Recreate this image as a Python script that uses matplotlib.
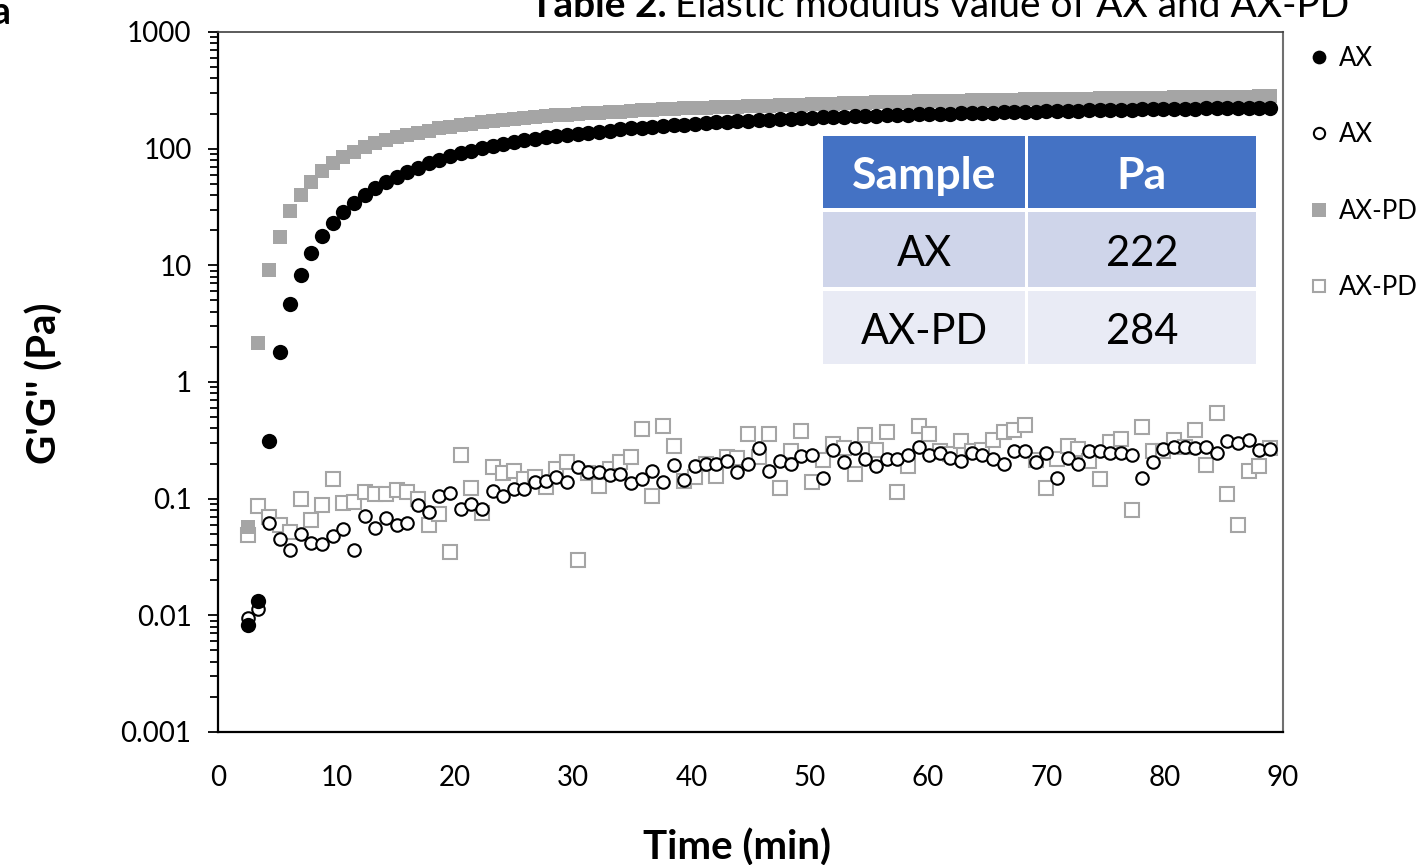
import matplotlib
matplotlib.use("Agg")
import matplotlib.pyplot as plt
from matplotlib.patches import Rectangle
from matplotlib.ticker import FixedLocator, FuncFormatter, LogLocator, NullFormatter

plt.rcParams['font.family'] = ['Lato', 'DejaVu Sans']

# ---------------- data ----------------
time_min = [2.5, 3.4, 4.3, 5.2, 6.1, 7.0, 7.9, 8.8, 9.7, 10.6,
            11.5, 12.4, 13.3, 14.2, 15.1, 16.0, 16.9, 17.8, 18.7, 19.6,
            20.5, 21.4, 22.3, 23.2, 24.1, 25.0, 25.9, 26.8, 27.7, 28.6,
            29.5, 30.4, 31.3, 32.2, 33.1, 34.0, 34.9, 35.8, 36.7, 37.6,
            38.5, 39.4, 40.3, 41.2, 42.1, 43.0, 43.9, 44.8, 45.7, 46.6,
            47.5, 48.4, 49.3, 50.2, 51.1, 52.0, 52.9, 53.8, 54.7, 55.6,
            56.5, 57.4, 58.3, 59.2, 60.1, 61.0, 61.9, 62.8, 63.7, 64.6,
            65.5, 66.4, 67.3, 68.2, 69.1, 70.0, 70.9, 71.8, 72.7, 73.6,
            74.5, 75.4, 76.3, 77.2, 78.1, 79.0, 79.9, 80.8, 81.7, 82.6,
            83.5, 84.4, 85.3, 86.2, 87.1, 88.0, 88.9]

# G' of AX (filled black circles)
g1_ax = [0.0083, 0.0133, 0.31, 1.8, 4.7, 8.2, 12.8, 17.8, 23, 28.5,
         34, 40, 46, 52, 57.5, 63, 68, 75, 80, 86,
         91, 96, 101, 105, 110, 114, 118, 121, 125, 128,
         131, 134, 137, 140, 143, 146, 149, 151, 154, 156,
         159, 161, 163, 165, 168, 170, 172, 173, 175, 177,
         179, 180, 182, 183, 185, 186, 188, 189, 190, 192,
         193, 194, 196, 197, 198, 199, 200, 201, 202, 203,
         204, 205, 206, 207, 208, 209, 210, 211, 212, 213,
         213, 214, 215, 216, 217, 217, 218, 219, 220, 220,
         221, 222, 222, 223, 224, 224, 225]

# G'' of AX (open black circles)
g2_ax = [0.0095, 0.0113, 0.062, 0.045, 0.036, 0.05, 0.042, 0.041, 0.048, 0.055,
         0.036, 0.071, 0.056, 0.068, 0.059, 0.062, 0.088, 0.077, 0.106, 0.112,
         0.082, 0.09, 0.082, 0.116, 0.106, 0.121, 0.121, 0.138, 0.143, 0.154,
         0.138, 0.185, 0.17, 0.17, 0.158, 0.162, 0.135, 0.148, 0.174, 0.14,
         0.194, 0.145, 0.19, 0.2, 0.2, 0.212, 0.17, 0.198, 0.272, 0.172,
         0.212, 0.198, 0.23, 0.235, 0.15, 0.262, 0.207, 0.27, 0.218, 0.19,
         0.22, 0.218, 0.235, 0.278, 0.237, 0.248, 0.224, 0.212, 0.245, 0.237,
         0.218, 0.2, 0.254, 0.254, 0.205, 0.245, 0.15, 0.224, 0.2, 0.258,
         0.258, 0.245, 0.245, 0.237, 0.15, 0.207, 0.266, 0.278, 0.275, 0.27,
         0.278, 0.245, 0.31, 0.3, 0.32, 0.262, 0.266]

# G' of AX-PD (filled gray squares)
g1_axpd = [0.057, 2.14, 9.2, 17.5, 29, 40, 52, 64, 75, 85,
           94, 103, 111, 118, 125, 131, 137, 143, 149, 154,
           159, 164, 168, 172, 176, 180, 183, 187, 190, 193,
           196, 199, 201, 204, 206, 208, 211, 213, 215, 217,
           219, 221, 223, 224, 226, 228, 229, 231, 232, 234,
           235, 237, 238, 240, 242, 243, 245, 246, 248, 249,
           250, 252, 253, 254, 255, 256, 257, 258, 259, 260,
           261, 262, 263, 264, 265, 266, 267, 267, 268, 269,
           270, 271, 271, 272, 273, 274, 274, 275, 276, 276,
           277, 278, 278, 279, 279, 280, 281]

# G'' of AX-PD (open gray squares)
g2_axpd = [0.049, 0.087, 0.069, 0.06, 0.052, 0.099, 0.065, 0.089, 0.146, 0.092,
           0.093, 0.113, 0.11, 0.11, 0.119, 0.115, 0.1, 0.059, 0.074, 0.035,
           0.237, 0.123, 0.076, 0.185, 0.165, 0.174, 0.148, 0.152, 0.127, 0.18,
           0.207, 0.03, 0.165, 0.129, 0.18, 0.205, 0.226, 0.395, 0.106, 0.42,
           0.283, 0.143, 0.152, 0.198, 0.155, 0.226, 0.224, 0.36, 0.226, 0.36,
           0.124, 0.258, 0.38, 0.138, 0.215, 0.295, 0.27, 0.164, 0.35, 0.262,
           0.37, 0.113, 0.19, 0.42, 0.36, 0.258, 0.24, 0.31, 0.258, 0.262,
           0.32, 0.37, 0.39, 0.43, 0.215, 0.123, 0.218, 0.28, 0.266, 0.212,
           0.148, 0.305, 0.325, 0.08, 0.41, 0.258, 0.254, 0.32, 0.275, 0.39,
           0.195, 0.54, 0.11, 0.059, 0.172, 0.19, 0.27]

series_labels = ["AX", "AX", "AX-PD", "AX-PD"]
x_ticks = [0, 10, 20, 30, 40, 50, 60, 70, 80, 90]
y_ticks = [0.001, 0.01, 0.1, 1, 10, 100, 1000]

table_header = ["Sample", "Pa"]
table_samples = ["AX", "AX-PD"]
table_values = ["222", "284"]

# ---------------- figure ----------------
W, H = 1417, 865
fig = plt.figure(figsize=(W / 100, H / 100), dpi=100)


def fx(px):
    return px / W


def fy(py):
    return 1 - py / H


ax = fig.add_axes([fx(218), fy(732), fx(1283) - fx(218), fy(32) - fy(732)])

GRAY = '#a5a5a5'
ax.plot(time_min, g2_axpd, linestyle='none', marker='s', ms=10, mfc='white',
        mec=GRAY, mew=1.5, label=series_labels[3], zorder=2)
ax.plot(time_min, g2_ax, linestyle='none', marker='o', ms=9, mfc='white',
        mec='black', mew=1.5, label=series_labels[1], zorder=3)
ax.plot(time_min, g1_axpd, linestyle='none', marker='s', ms=10.5, mfc=GRAY,
        mec=GRAY, mew=0, label=series_labels[2], zorder=4)
ax.plot(time_min, g1_ax, linestyle='none', marker='o', ms=11, mfc='black',
        mec='black', mew=0, label=series_labels[0], zorder=5)

ax.set_yscale('log')
ax.set_xlim(0, 90)
ax.set_ylim(0.001, 1000)
ax.xaxis.set_major_locator(FixedLocator(x_ticks))
ax.yaxis.set_major_locator(FixedLocator(y_ticks))
ax.yaxis.set_major_formatter(FuncFormatter(lambda v, p: f"{v:g}"))
ax.yaxis.set_minor_locator(LogLocator(base=10, subs=range(2, 10), numticks=50))
ax.yaxis.set_minor_formatter(NullFormatter())
ax.tick_params(axis='y', which='major', direction='out', length=7, width=1.3,
               labelsize=20, pad=12)
ax.tick_params(axis='y', which='minor', direction='out', length=5.5, width=1.3)
ax.tick_params(axis='x', which='both', length=0, labelsize=20, pad=24)

for s in ['left', 'bottom']:
    ax.spines[s].set_color('black')
    ax.spines[s].set_linewidth(1.6)
ax.spines['top'].set_color('#404040')
ax.spines['top'].set_linewidth(1.2)
ax.spines['right'].set_color('#707070')
ax.spines['right'].set_linewidth(1.5)

# axis labels
fig.text(fx(45), fy(383), "G'G'' (Pa)", rotation=90, ha='center', va='center',
         fontsize=29, fontweight='bold')
fig.text(fx(737), fy(848), "Time (min)", ha='center', va='center',
         fontsize=29, fontweight='bold')

# legend (order as reference)
handles, labels = ax.get_legend_handles_labels()
order = [3, 1, 2, 0]
fig.legend([handles[i] for i in order], [labels[i] for i in order],
           loc='upper left', bbox_to_anchor=(fx(1309), fy(46)), frameon=False,
           fontsize=18.5, labelspacing=2.0, handlelength=0.8, handletextpad=0.35,
           borderpad=0, borderaxespad=0, markerscale=0.9)

# title (cut off at top, as in the reference)
fig.canvas.draw()
renderer = fig.canvas.get_renderer()
t1 = fig.text(fx(530), fy(17), "Table 2.", ha='left', va='baseline',
              fontsize=28, fontweight='bold')
bb = t1.get_window_extent(renderer=renderer)
fig.text(bb.x1 / W + fx(8), fy(17), "Elastic modulus value of AX and AX-PD",
         ha='left', va='baseline', fontsize=28)

# panel letter (cut off)
fig.text(fx(10), fy(24), "a", ha='right', va='baseline', fontsize=27,
         fontweight='bold')

# inset table
cols = [(823, 1025), (1028, 1256)]
rows = [(136, 208), (212, 287), (291, 364)]
row_colors = ['#4472c4', '#cfd5ea', '#e9ebf5']
cell_text = [table_header,
             [table_samples[0], table_values[0]],
             [table_samples[1], table_values[1]]]
for ri, (y0, y1) in enumerate(rows):
    for ci, (x0, x1) in enumerate(cols):
        fig.add_artist(Rectangle((fx(x0), fy(y1)), fx(x1) - fx(x0), fy(y0) - fy(y1),
                                 transform=fig.transFigure, facecolor=row_colors[ri],
                                 edgecolor='none', zorder=10))
        fig.text(fx((x0 + x1) / 2), fy((y0 + y1) / 2 + 4), cell_text[ri][ci],
                 ha='center', va='center', fontsize=32 if ri == 0 else 30,
                 color='white' if ri == 0 else 'black',
                 fontweight='bold' if ri == 0 else 'normal', zorder=11)

fig.savefig('out.png', dpi=100)
